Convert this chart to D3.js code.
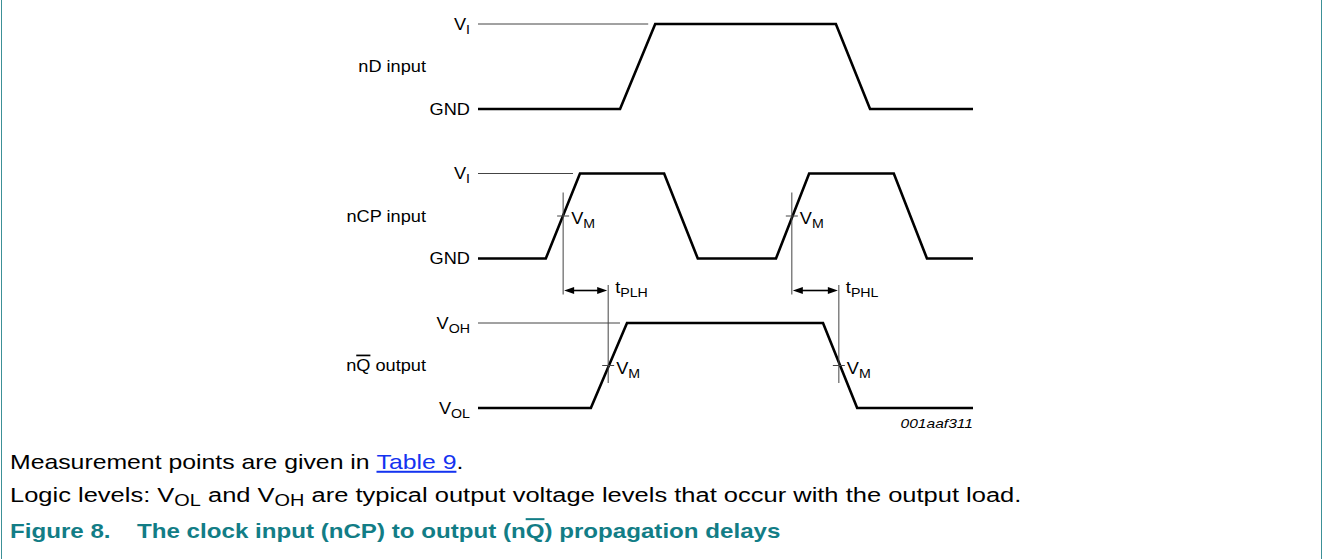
<!DOCTYPE html>
<html lang="en">
<head>
<meta charset="UTF-8" />
<title>Figure 8. The clock input (nCP) to output (nQ) propagation delays</title>
<style>
    body { margin: 0; background: #fff; }
    svg { display: block; font-family: "Liberation Sans", Arial, Helvetica, sans-serif; }
</style>
</head>
<body>
<svg id="chart" width="1323" height="559"></svg>
<script src="https://cdn.jsdelivr.net/npm/d3@7/dist/d3.min.js"></script>
<script>
// waveforms: [time, level] with time in arbitrary units (0..100), level 0 = low, 1 = high
const signals = ['nD', 'nCP', 'nQ'];
const ndWave = [[0, 0], [28.7, 0], [35.8, 1], [72.3, 1], [79.2, 0], [100, 0]];
const ncpWave = [[0, 0], [13.7, 0], [20.6, 1], [37.6, 1], [44.4, 0], [60.2, 0], [66.9, 1], [84.0, 1], [90.7, 0], [100, 0]];
const nqWave = [[0, 0], [22.8, 0], [30.1, 1], [69.7, 1], [76.6, 0], [100, 0]];
const waves = [ndWave, ncpWave, nqWave];

// labels, [main, subscript]
const signalLabels = [[{t: 'nD input'}], [{t: 'nCP input'}], [{t: 'n'}, {t: 'Q', over: true}, {t: ' output'}]];
const highLabels = [['V', 'I'], ['V', 'I'], ['V', 'OH']];
const lowLabels = [['GND', ''], ['GND', ''], ['V', 'OL']];

// propagation delays: time of V_M crossing on nCP and on nQ
const delays = [
    {name: 'PLH', input: 17.2, output: 26.3},
    {name: 'PHL', input: 63.4, output: 72.9},
];
const figureId = '001aaf311';

const svg = d3.select('#chart');
const x = d3.scaleLinear().domain([0, 100]).range([478, 973]);
const row = d3.scalePoint().domain(signals).range([24, 323]);
const swing = 85;
const level = d3.scaleLinear().domain([0, 1]).range([swing, 0]);
const yOf = (sig, v) => row(sig) + level(v);

// text helper: pieces with optional subscript / overline / link
function addText(parent, px, py, pieces, o) {
    const g = parent.append('g')
        .attr('transform', `translate(${px},${py}) scale(${o.sx || 1},1)`);
    const t = g.append('text')
        .attr('font-size', o.size)
        .attr('text-anchor', o.anchor || 'start')
        .attr('font-weight', o.weight || 'normal')
        .attr('font-style', o.italic ? 'italic' : 'normal')
        .attr('fill', o.fill || '#000');
    let down = false;
    pieces.forEach(p => {
        if (p.t === '') return;
        const s = t.append('tspan').text(p.t);
        if (p.sub && !down) { s.attr('dy', 4); down = true; }
        else if (!p.sub && down) { s.attr('dy', -4); down = false; }
        if (p.sub) s.attr('font-size', o.size * 0.78);
        if (p.over) s.style('text-decoration', 'overline');
        if (p.link) s.attr('fill', '#1433f0').style('text-decoration', 'underline');
    });
    return g;
}

const diag = svg.append('g');
const labelSize = 17, labelSx = 1.07;

signals.forEach((sig, i) => {
    const wave = waves[i];
    // thin reference line at the high level
    const firstHigh = wave.find(d => d[1] === 1)[0];
    diag.append('line')
        .attr('x1', x(0)).attr('x2', x(firstHigh) - 7)
        .attr('y1', yOf(sig, 1)).attr('y2', yOf(sig, 1))
        .attr('stroke', '#444').attr('stroke-width', 1);
    // waveform
    diag.append('path')
        .datum(wave)
        .attr('d', d3.line().x(d => x(d[0])).y(d => yOf(sig, d[1])))
        .attr('fill', 'none')
        .attr('stroke', '#000')
        .attr('stroke-width', 2.6)
        .attr('stroke-linejoin', 'miter');
    // level labels
    const hl = highLabels[i], ll = lowLabels[i];
    addText(diag, 470, yOf(sig, 1) + 5.5, [{t: hl[0]}, {t: hl[1], sub: true}], {size: labelSize, sx: labelSx, anchor: 'end'});
    addText(diag, 470, yOf(sig, 0) + 5.5, [{t: ll[0]}, {t: ll[1], sub: true}], {size: labelSize, sx: labelSx, anchor: 'end'});
    // signal name
    addText(diag, 426, yOf(sig, 0.5) + 5.5, signalLabels[i], {size: labelSize, sx: labelSx, anchor: 'end'});
});

// timing annotations
const arrowY = yOf('nCP', 0) + 32;
delays.forEach(d => {
    const xi = x(d.input), xo = x(d.output);
    const mIn = yOf('nCP', 0.5), mOut = yOf('nQ', 0.5);
    diag.append('line').attr('x1', xi).attr('x2', xi)
        .attr('y1', yOf('nCP', 1) + 19).attr('y2', yOf('nCP', 0) + 36)
        .attr('stroke', '#444').attr('stroke-width', 1);
    diag.append('line').attr('x1', xo).attr('x2', xo)
        .attr('y1', yOf('nQ', 1) - 38).attr('y2', yOf('nQ', 0) - 25)
        .attr('stroke', '#444').attr('stroke-width', 1);
    [[xi, mIn], [xo, mOut]].forEach(([cx, cy]) => {
        diag.append('line').attr('x1', cx - 6).attr('x2', cx + 6)
            .attr('y1', cy).attr('y2', cy)
            .attr('stroke', '#444').attr('stroke-width', 1);
        addText(diag, cx + 8, cy + 8, [{t: 'V'}, {t: 'M', sub: true}], {size: labelSize, sx: labelSx});
    });
    // double arrow
    diag.append('line').attr('x1', xi + 8).attr('x2', xo - 8)
        .attr('y1', arrowY).attr('y2', arrowY)
        .attr('stroke', '#000').attr('stroke-width', 1.6);
    diag.append('path')
        .attr('d', `M${xi + 1},${arrowY} l10,-3.5 v7 Z M${xo - 1},${arrowY} l-10,-3.5 v7 Z`)
        .attr('fill', '#000');
    addText(diag, xo + 7, arrowY + 2.5, [{t: 't'}, {t: d.name, sub: true}], {size: labelSize, sx: labelSx});
});

addText(diag, x(100), yOf('nQ', 0) + 20, [{t: figureId}], {size: 13, sx: 1.2, anchor: 'end', italic: true});

// notes and caption
const noteSize = 20;
const capSx = 1.207, capColor = '#127d86';
addText(svg, 10, 469, [{t: 'Measurement points are given in '}, {t: 'Table 9', link: true}, {t: '.'}], {size: noteSize, sx: 1.24});
addText(svg, 10, 502, [{t: 'Logic levels: V'}, {t: 'OL', sub: true}, {t: ' and V'}, {t: 'OH', sub: true},
    {t: ' are typical output voltage levels that occur with the output load.'}], {size: noteSize, sx: 1.275});
addText(svg, 10, 538, [{t: 'Figure 8.'}], {size: noteSize, sx: capSx, weight: 'bold', fill: capColor});
addText(svg, 137, 538, [{t: 'The clock input (nCP) to output (n'}, {t: 'Q', over: true}, {t: ') propagation delays'}],
    {size: noteSize, sx: capSx, weight: 'bold', fill: capColor});

// frame lines
svg.append('line').attr('x1', 1.5).attr('x2', 1.5).attr('y1', 0).attr('y2', 559)
    .attr('stroke', '#3c9097').attr('stroke-width', 1);
svg.append('line').attr('x1', 1321.5).attr('x2', 1321.5).attr('y1', 0).attr('y2', 559)
    .attr('stroke', '#3c9097').attr('stroke-width', 1);
</script>
</body>
</html>
